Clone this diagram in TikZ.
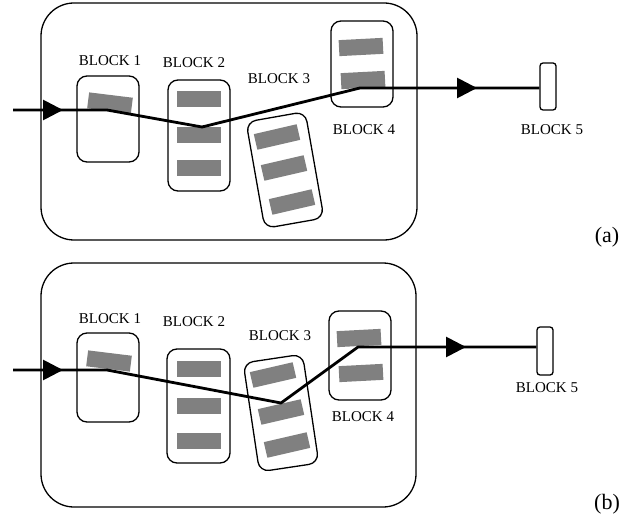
\documentclass[tikz,border=0pt]{standalone}
\usepackage{fontspec}
\setmainfont{Liberation Serif}
\usetikzlibrary{arrows.meta}
\begin{document}
\begin{tikzpicture}[x=1pt,y=-1pt,
  outer/.style={draw=black,line width=1.3pt,rounded corners=33pt},
  blk/.style={draw=black,line width=1.3pt,rounded corners=10pt,inner sep=0pt,fill=white},
  bar/.style={fill=black!50,draw=none,minimum width=44pt,minimum height=16pt,inner sep=0pt},
  lbl/.style={font=\fontsize{15}{17}\selectfont,inner sep=0pt},
  tag/.style={font=\fontsize{22}{25}\selectfont,inner sep=0pt},
  beam/.style={line width=2.8pt,line join=round},
  tip/.style={line width=2.8pt,-{Triangle[length=20pt,width=20pt]}}]
\useasboundingbox (0,0) rectangle (642,521);
% ---------------- panel (a) ----------------
\draw[outer] (41,3) rectangle (417,240);
\node[blk,minimum width=62pt,minimum height=86pt] (a1) at (108,119) {};
\node[blk,minimum width=62pt,minimum height=111pt] (a2) at (199,135.5) {};
\node[blk,minimum width=60pt,minimum height=108pt,rotate=10] (a3) at (285,170) {};
\node[blk,minimum width=62pt,minimum height=86pt] (a4) at (362,64) {};
\node[blk,minimum width=16pt,minimum height=47pt,rounded corners=3pt] (a5) at (548,86.5) {};
\node[bar,rotate=-7] (a1g) at (110,103) {};
\node[bar] (a2g1) at (199,99) {};
\node[bar] (a2g2) at (199,135) {};
\node[bar] (a2g3) at (199,168) {};
\node[bar,rotate=13] (a3g1) at (277,137) {};
\node[bar,rotate=13] (a3g2) at (284,168) {};
\node[bar,rotate=13] (a3g3) at (292,202) {};
\node[bar,rotate=3] (a4g1) at (361,47) {};
\node[bar,rotate=3] (a4g2) at (363,80) {};
\node[lbl] (a1l) at (110,61) {BLOCK 1};
\node[lbl] (a2l) at (194,63) {BLOCK 2};
\node[lbl] (a3l) at (279,79) {BLOCK 3};
\node[lbl] (a4l) at (364,130) {BLOCK 4};
\node[lbl] (a5l) at (552,130) {BLOCK 5};
\node[tag] (atag) at (607,237) {(a)};
\coordinate (as) at (13,110);
\coordinate (at1) at (63,110);
\coordinate (ab1) at (107,110);
\coordinate (ab2) at (202,127);
\coordinate (ab3) at (360,88);
\coordinate (at2s) at (440,88);
\coordinate (at2) at (477,88);
\draw[beam] (as) -- (ab1) -- (ab2) -- (ab3) -- (ab3 -| a5.west);
\draw[tip] (as) -- (at1);
\draw[tip] (at2s) -- (at2);
% ---------------- panel (b) ----------------
\draw[outer] (41,263) rectangle (416,507);
\node[blk,minimum width=62pt,minimum height=89pt] (b1) at (108,377.5) {};
\node[blk,minimum width=63pt,minimum height=114pt] (b2) at (198.5,406) {};
\node[blk,minimum width=60pt,minimum height=110pt,rotate=8.5] (b3) at (281,413) {};
\node[blk,minimum width=62pt,minimum height=89pt] (b4) at (360,355.5) {};
\node[blk,minimum width=16pt,minimum height=48pt,rounded corners=3pt] (b5) at (545,351) {};
\node[bar,rotate=-7] (b1g) at (109,361) {};
\node[bar] (b2g1) at (199,368.5) {};
\node[bar] (b2g2) at (199,406) {};
\node[bar] (b2g3) at (199,440.5) {};
\node[bar,rotate=13] (b3g1) at (273,375) {};
\node[bar,rotate=13] (b3g2) at (281,412) {};
\node[bar,rotate=13] (b3g3) at (287,445) {};
\node[bar,rotate=3] (b4g1) at (359,338) {};
\node[bar,rotate=3] (b4g2) at (361,373) {};
\node[lbl] (b1l) at (110,319) {BLOCK 1};
\node[lbl] (b2l) at (194,322) {BLOCK 2};
\node[lbl] (b3l) at (280,336) {BLOCK 3};
\node[lbl] (b4l) at (363,417) {BLOCK 4};
\node[lbl] (b5l) at (547,388) {BLOCK 5};
\node[tag] (btag) at (607,504) {(b)};
\coordinate (bs) at (13,370);
\coordinate (bt1) at (63,370);
\coordinate (bb1) at (107,370);
\coordinate (bb2) at (281,403);
\coordinate (bb3) at (358,347);
\coordinate (bt2s) at (430,347);
\coordinate (bt2) at (466,347);
\draw[beam] (bs) -- (bb1) -- (bb2) -- (bb3) -- (bb3 -| b5.west);
\draw[tip] (bs) -- (bt1);
\draw[tip] (bt2s) -- (bt2);
\end{tikzpicture}
\end{document}
